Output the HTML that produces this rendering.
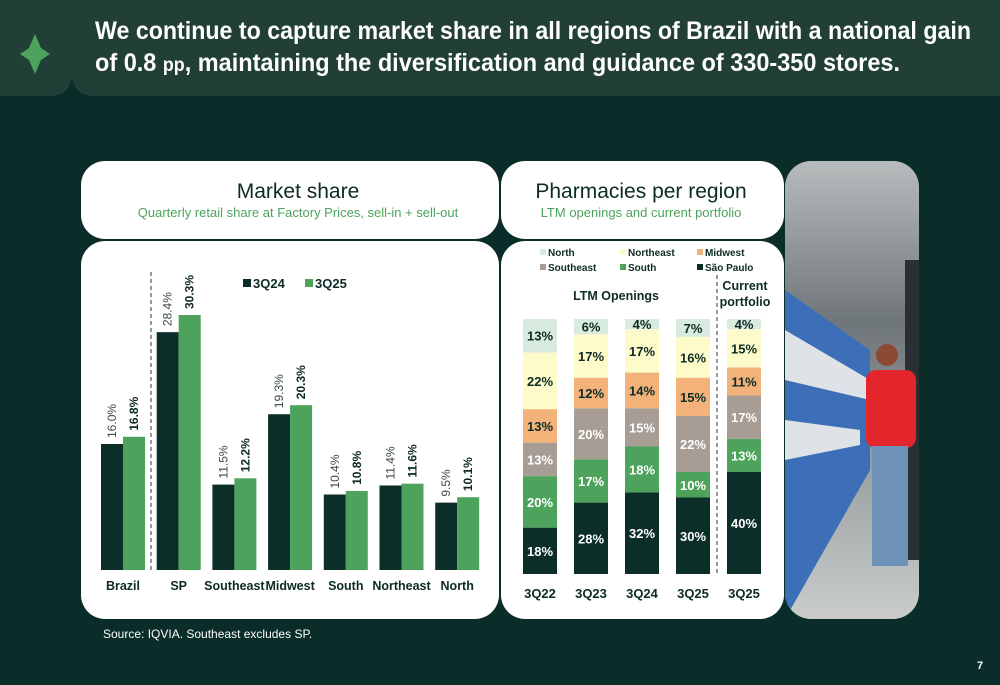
<!DOCTYPE html>
<html><head><meta charset="utf-8"><style>
body{margin:0;background:#0a2d29;width:1000px;height:685px;overflow:hidden;font-family:"Liberation Sans",sans-serif}
svg{display:block}
</style></head><body>
<svg width="1000" height="685" viewBox="0 0 1000 685" xmlns="http://www.w3.org/2000/svg" font-family="Liberation Sans, sans-serif">
<rect width="1000" height="685" fill="#0a2d29"/>
<g>
<path d="M0 0H1000V96H94Q74 96 72 76Q70 96 50 96H0Z" fill="#223f37"/>
<path d="M35 34L41 48L50 54L41 60L35 74L29 60L20 54L29 48Z" fill="#4da35c"/>
<text x="95" y="39" fill="#fff" font-size="25" font-weight="bold" textLength="876" lengthAdjust="spacingAndGlyphs">We continue to capture market share in all regions of Brazil with a national gain</text>
<text x="95" y="71" fill="#fff" font-size="25" font-weight="bold" textLength="805" lengthAdjust="spacingAndGlyphs">of 0.8 <tspan font-size="19">pp</tspan>, maintaining the diversification and guidance of 330-350 stores.</text>
</g>
<g>
<rect x="81" y="161" width="418" height="78" rx="24" fill="#fff"/>
<rect x="81" y="241" width="418" height="378" rx="24" fill="#fff"/>
<text x="298" y="198" text-anchor="middle" font-size="21" fill="#0d2b26">Market share</text>
<text x="298" y="217" text-anchor="middle" font-size="13" fill="#4da35c">Quarterly retail share at Factory Prices, sell-in + sell-out</text>
</g>
<g>
<rect x="501" y="161" width="283" height="78" rx="24" fill="#fff"/>
<rect x="501" y="241" width="283" height="378" rx="24" fill="#fff"/>
<text x="641" y="198" text-anchor="middle" font-size="21" fill="#0d2b26">Pharmacies per region</text>
<text x="641" y="217" text-anchor="middle" font-size="13" fill="#4da35c">LTM openings and current portfolio</text>
</g>
<g>
<defs>
<linearGradient id="ceil" x1="0" y1="0" x2="0" y2="1"><stop offset="0" stop-color="#b9bcbd"/><stop offset="0.35" stop-color="#6f767a"/><stop offset="1" stop-color="#c9cccb"/></linearGradient>
<clipPath id="pc"><rect x="785" y="161" width="134" height="458" rx="26"/></clipPath>
</defs>
<g clip-path="url(#pc)">
<rect x="785" y="161" width="134" height="458" fill="url(#ceil)"/>
<polygon points="785,290 870,350 870,470 785,619" fill="#3d6fb8"/>
<polygon points="785,330 870,380 870,400 785,380" fill="#dfe3e8"/>
<polygon points="785,420 860,430 860,445 785,460" fill="#dfe3e8"/>
<rect x="905" y="260" width="14" height="300" fill="#2a2f33"/>
<rect x="866" y="370" width="50" height="78" rx="10" fill="#e3262b"/>
<circle cx="887" cy="355" r="11" fill="#8a4a34"/>
<rect x="872" y="446" width="36" height="120" fill="#6f93b8"/>
</g>
</g>
<text x="103" y="638" font-size="12" fill="#fff">Source: IQVIA. Southeast excludes SP.</text>
<text x="977" y="669" font-size="11" font-weight="bold" fill="#fff">7</text>
<g id="left"></g>
<g id="right"></g>
</svg>
<script>
const regions=["Brazil","SP","Southeast","Midwest","South","Northeast","North"];
const share3Q24=[16.0,28.4,11.5,19.3,10.4,11.4,9.5];
const share3Q25=[16.8,30.3,12.2,20.3,10.8,11.6,10.1];
const seriesNames=["3Q24","3Q25"];

const periods=["3Q22","3Q23","3Q24","3Q25","3Q25"];
const segNames=["São Paulo","South","Southeast","Midwest","Northeast","North"];
const spVals=[18,28,32,30,40];
const southVals=[20,17,18,10,13];
const southeastVals=[13,20,15,22,17];
const midwestVals=[13,12,14,15,11];
const northeastVals=[22,17,17,16,15];
const northVals=[13,6,4,7,4];

const NS="http://www.w3.org/2000/svg";
function mk(tag,attrs,parent,txt){const e=document.createElementNS(NS,tag);for(const k in attrs)e.setAttribute(k,attrs[k]);if(txt!==undefined)e.textContent=txt;parent.appendChild(e);return e;}
const LG=document.getElementById('left');
const base=570, vmin=2.03, pxPer=9.02;
const yL=v=>base-(v-vmin)*pxPer;
const xG=i=>101+i*55.7;
const bw=22;
const dash=mk('line',{x1:151,y1:272,x2:151,y2:570,stroke:'#333','stroke-dasharray':'4,3','stroke-width':1},LG);


regions.forEach((r,i)=>{
  const x=xG(i);
  const b1=mk('rect',{x:x,y:yL(share3Q24[i]),width:bw,height:base-yL(share3Q24[i]),fill:'#0b2e28'},LG);
  
  
  const b2=mk('rect',{x:x+bw,y:yL(share3Q25[i]),width:bw,height:base-yL(share3Q25[i]),fill:'#4da35c'},LG);
  
  
  const t1=mk('text',{x:0,y:0,'font-size':12,fill:'#3a4a46',transform:`translate(${x+15},${yL(share3Q24[i])-6}) rotate(-90)`},LG,share3Q24[i].toFixed(1)+'%');
  
  
  const t2=mk('text',{x:0,y:0,'font-size':12,'font-weight':'bold',fill:'#0d2b26',transform:`translate(${x+bw+15},${yL(share3Q25[i])-6}) rotate(-90)`},LG,share3Q25[i].toFixed(1)+'%');
  
  
  const c=mk('text',{x:x+bw,y:590,'text-anchor':'middle','font-size':12.5,'font-weight':'bold',fill:'#0d2b26'},LG,r);
  
  
});
[["#0b2e28",243],["#4da35c",305]].forEach((c,i)=>{
  const s=mk('rect',{x:c[1],y:279,width:8,height:8,fill:c[0]},LG);
  
  
  const t=mk('text',{x:c[1]+10,y:288,'font-size':13,'font-weight':'bold',fill:'#0d2b26'},LG,seriesNames[i]);
  
  
});

const RG=document.getElementById('right');
const segs=[spVals,southVals,southeastVals,midwestVals,northeastVals,northVals];
const colors=["#0b2e28","#4da35c","#a89d94","#f2b27a","#fdfbc9","#d9eadf"];
const txtCol=["#fff","#fff","#fff","#0d2b26","#0d2b26","#0d2b26"];
const topY=319,botY=574,bW=34;
const xP=i=>523+i*51;
periods.forEach((p,i)=>{
  let tot=0;segs.forEach(s=>tot+=s[i]);
  let y=botY;
  segs.forEach((s,j)=>{
    const h=s[i]/tot*(botY-topY);
    const r=mk('rect',{x:xP(i),y:y-h,width:bW,height:h,fill:colors[j]},RG);
    
    
    const t=mk('text',{x:xP(i)+bW/2,y:y-h/2+5,'text-anchor':'middle','font-size':13,'font-weight':'bold',fill:txtCol[j]},RG,s[i]+'%');
    
    
    y-=h;
  });
  const c=mk('text',{x:xP(i)+bW/2,y:598,'text-anchor':'middle','font-size':13,'font-weight':'bold',fill:'#0d2b26'},RG,p);
  
  
});
const legendOrder=[5,4,3,2,1,0];
legendOrder.forEach((j,k)=>{
  const col=k%3,row=Math.floor(k/3);
  const x=[540,620,697][col],y=256+row*15;
  const s=mk('rect',{x:x,y:y-7,width:6,height:6,fill:colors[j]},RG);
  
  
  const t=mk('text',{x:x+8,y:y,'font-size':10,'font-weight':'bold',fill:'#0d2b26'},RG,segNames[j]);
  
  
});
const d2=mk('line',{x1:717,y1:275,x2:717,y2:575,stroke:'#333','stroke-dasharray':'4,3'},RG);


const lt=mk('text',{x:616,y:300,'text-anchor':'middle','font-size':12.5,'font-weight':'bold',fill:'#0d2b26'},RG,'LTM Openings');


const cp1=mk('text',{x:745,y:290,'text-anchor':'middle','font-size':12.5,'font-weight':'bold',fill:'#0d2b26'},RG,'Current');


const cp2=mk('text',{x:745,y:306,'text-anchor':'middle','font-size':12.5,'font-weight':'bold',fill:'#0d2b26'},RG,'portfolio');


</script>
</body></html>
